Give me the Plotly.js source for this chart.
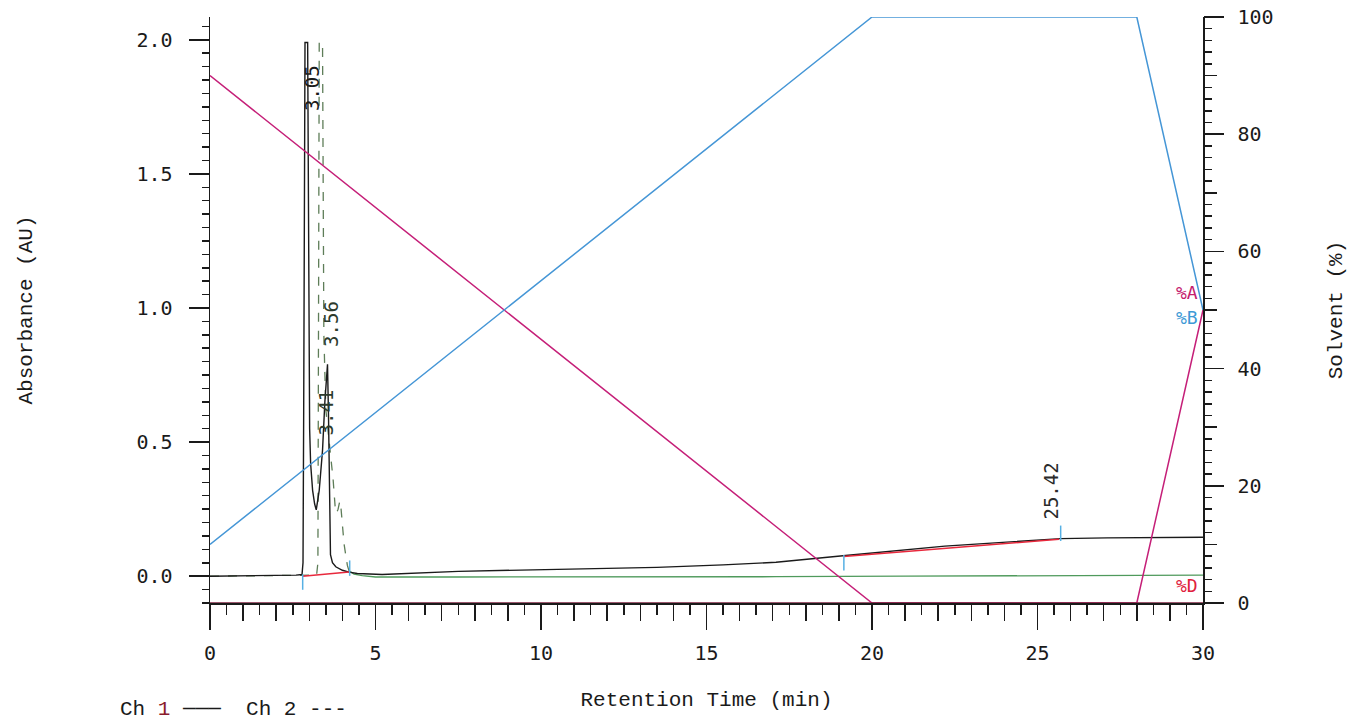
<!DOCTYPE html>
<html>
<head>
<meta charset="utf-8">
<script src="https://cdn.plot.ly/plotly-3.0.1.min.js"></script>
<style>
  html, body { margin: 0; padding: 0; background: #ffffff; }
  #chart { width: 1348px; height: 721px; }
</style>
</head>
<body>
<div id="chart"></div>
<script>
// ---- Channel 1 (solid) : retention time (min) / absorbance (AU)
const ch1Time = [0, 1.0, 2.0, 2.6, 2.78, 2.81, 2.83, 2.85, 2.87, 2.95, 2.97, 2.99, 3.01, 3.04, 3.1, 3.16, 3.21, 3.3, 3.4, 3.47, 3.52, 3.55, 3.58, 3.61, 3.64, 3.7, 3.8, 4.0, 4.2, 4.45, 5.2, 7.5, 10.5, 13.5, 15.5, 17.1, 19.2, 22.2, 25.7, 27.1, 30];
const ch1Abs  = [0, 0.001, 0.003, 0.004, 0.006, 0.05, 0.6, 1.6, 1.99, 1.99, 1.5, 0.9, 0.55, 0.42, 0.32, 0.27, 0.247, 0.32, 0.47, 0.65, 0.77, 0.79, 0.6, 0.25, 0.08, 0.05, 0.035, 0.022, 0.015, 0.01, 0.006, 0.018, 0.025, 0.033, 0.042, 0.052, 0.077, 0.112, 0.14, 0.143, 0.145];

// ---- Channel 2 (dashed)
const ch2Time = [0, 1.0, 2.0, 3.0, 3.22, 3.26, 3.28, 3.3, 3.4, 3.42, 3.44, 3.5, 3.6, 3.66, 3.72, 3.78, 3.82, 3.87, 3.92, 3.96, 4.05, 4.15, 4.2, 4.35, 4.6, 5.0, 7.5, 10.5, 13.5, 17.1, 21, 25, 30];
const ch2Abs  = [0, 0.001, 0.002, 0.003, 0.004, 0.05, 0.8, 1.99, 1.99, 1.4, 0.9, 0.62, 0.5, 0.45, 0.36, 0.26, 0.235, 0.25, 0.28, 0.25, 0.12, 0.04, 0.02, 0.008, 0.002, -0.003, -0.003, -0.003, -0.003, -0.002, 0.0, 0.002, 0.004];

// ---- integration baselines (red) and peak start/end marks (cyan)
const baseTime = [2.8, 4.2, null, 19.15, 25.65];
const baseAbs  = [0.0, 0.016, null, 0.073, 0.138];
const markTime = [2.8, 4.22, 19.15, 25.7];
const markAbs  = [-0.022, 0.03, 0.05, 0.16];

// ---- peak retention-time labels
const peakTime = [3.05, 3.41, 3.56, 25.42];

// ---- solvent program (%)
const solventTime = [0, 20, 28, 30];
const pctA = [90, 0, 0, 50];
const pctB = [10, 100, 100, 50];
const pctD = [0, 0, 0, 0];

const MONO = "DejaVu Sans Mono, Liberation Mono, monospace";
const TITLEF = "Liberation Mono, DejaVu Sans Mono, monospace";
const INK = "#1a1a1a";

const split = ch2Time.indexOf(4.2);

const traces = [
  { x: ch2Time.slice(0, split + 1), y: ch2Abs.slice(0, split + 1), mode: "lines",
    line: { color: "#5e7d58", width: 1.3, dash: "dash" }, hoverinfo: "skip" },
  { x: ch2Time.slice(split), y: ch2Abs.slice(split), mode: "lines",
    line: { color: "#4f9a5c", width: 1.3 }, hoverinfo: "skip" },
  { x: ch1Time, y: ch1Abs, mode: "lines",
    line: { color: INK, width: 1.4 }, hoverinfo: "skip" },
  { x: baseTime, y: baseAbs, mode: "lines", connectgaps: false,
    line: { color: "#e8283c", width: 1.5 }, hoverinfo: "skip" },
  { x: solventTime, y: pctA, yaxis: "y2", mode: "lines",
    line: { color: "#c51f78", width: 1.5 }, hoverinfo: "skip" },
  { x: solventTime, y: pctB, yaxis: "y2", mode: "lines",
    line: { color: "#4596d6", width: 1.5 }, hoverinfo: "skip" },
  { x: solventTime, y: pctD, yaxis: "y2", mode: "lines",
    line: { color: "#7a1f3c", width: 1.5 }, hoverinfo: "skip" },
  { x: markTime, y: markAbs, mode: "markers",
    marker: { symbol: "line-ns", size: 11, line: { color: "#56b0e4", width: 1.5 } }, hoverinfo: "skip" },
  // helper traces so the overlay tick axes are drawn
  { x: [null], y: [null], xaxis: "x2", mode: "lines", hoverinfo: "skip" },
  { x: [null], y: [null], yaxis: "y3", mode: "lines", hoverinfo: "skip" }
];

const labelY = [1.82, 0.61, 0.94, 0.317];
const labelShift = [1, 3, 3, 0];
const labelColor = [INK, "#2c3a2c", "#2c3a2c", "#2a2a2a"];

const annotations = peakTime.map((t, i) => ({
  x: t, y: labelY[i], xref: "x", yref: "y", text: t.toFixed(2),
  textangle: -90, showarrow: false, xshift: labelShift[i],
  font: { family: MONO, size: 19, color: labelColor[i] }
}));

annotations.push(
  { x: 29.9, y: 53, xref: "x", yref: "y2", text: "%A", xanchor: "right", showarrow: false,
    font: { family: MONO, size: 18, color: "#c4206e" } },
  { x: 29.9, y: 48.8, xref: "x", yref: "y2", text: "%B", xanchor: "right", showarrow: false,
    font: { family: MONO, size: 18, color: "#3d9ad6" } },
  { x: 29.9, y: 3, xref: "x", yref: "y2", text: "%D", xanchor: "right", showarrow: false,
    font: { family: MONO, size: 18, color: "#e0203c" } },
  { x: -0.0927, y: -0.181, xref: "paper", yref: "paper", xanchor: "left", yanchor: "middle",
    showarrow: false,
    text: "Ch <span style='color:#8a1c2c'>1</span> \u2500\u2500\u2500\u00a0\u00a0Ch 2 ---",
    font: { family: TITLEF, size: 21, color: INK } }
);

const tickF = { family: MONO, size: 20, color: INK };
const titleF = { family: TITLEF, size: 21, color: INK };

const layout = {
  width: 1348, height: 721,
  margin: { l: 210, r: 145, t: 17, b: 118 },
  paper_bgcolor: "#ffffff", plot_bgcolor: "#ffffff",
  showlegend: false,
  xaxis: {
    range: [0, 30], tickmode: "linear", tick0: 0, dtick: 5,
    ticks: "outside", ticklen: 25, tickwidth: 1.5, tickcolor: INK,
    showline: true, linecolor: INK, linewidth: 1.5,
    showgrid: false, zeroline: false, tickfont: tickF, ticklabelstandoff: 6,
    minor: { tick0: 0, dtick: 0.5, ticks: "outside", ticklen: 10, tickwidth: 1.5, tickcolor: INK, showgrid: false },
    title: { text: "Retention Time (min)", font: titleF, standoff: 28 }
  },
  xaxis2: {
    overlaying: "x", anchor: "y", side: "bottom", range: [0, 30],
    tickmode: "linear", tick0: 0, dtick: 1, ticks: "outside", ticklen: 17, tickwidth: 1.5, tickcolor: INK,
    showticklabels: false, showline: false, showgrid: false, zeroline: false
  },
  yaxis: {
    range: [-0.1, 2.085], tickmode: "linear", tick0: 0, dtick: 0.5, tickformat: ".1f",
    ticks: "outside", ticklen: 20, tickwidth: 1.5, tickcolor: INK,
    showline: true, linecolor: INK, linewidth: 1.5,
    showgrid: false, zeroline: false, tickfont: tickF, ticklabelstandoff: 12,
    minor: { tick0: 0, dtick: 0.05, ticks: "outside", ticklen: 7, tickwidth: 1.5, tickcolor: INK, showgrid: false },
    title: { text: "Absorbance (AU)", font: titleF, standoff: 98 }
  },
  yaxis2: {
    overlaying: "y", anchor: "x", side: "right", range: [0, 100],
    tickmode: "linear", tick0: 0, dtick: 20,
    ticks: "outside", ticklen: 19, tickwidth: 1.5, tickcolor: INK,
    showline: true, linecolor: INK, linewidth: 1.5,
    showgrid: false, zeroline: false, tickfont: tickF, ticklabelstandoff: 10,
    minor: { tick0: 0, dtick: 2, ticks: "outside", ticklen: 7, tickwidth: 1.5, tickcolor: INK, showgrid: false },
    title: { text: "Solvent (%)", font: titleF, standoff: 55 }
  },
  yaxis3: {
    overlaying: "y", anchor: "x", side: "right", range: [0, 100],
    tickmode: "linear", tick0: 0, dtick: 10, ticks: "outside", ticklen: 13, tickwidth: 1.5, tickcolor: INK,
    showticklabels: false, showline: false, showgrid: false, zeroline: false
  },
  annotations: annotations
};

Plotly.newPlot("chart", traces, layout, { displayModeBar: false, staticPlot: true });
</script>
</body>
</html>
